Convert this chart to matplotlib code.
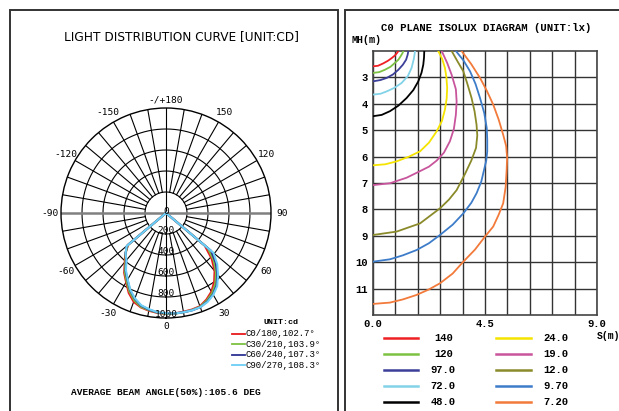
import numpy as np
import matplotlib
matplotlib.use('Agg')
import matplotlib.pyplot as plt
from matplotlib.lines import Line2D
from matplotlib.patches import Rectangle

W, H = 619, 411

# ---- light distribution (cd), gamma in deg, positive side = C0/C30/.. (right)
gamma = [-60, -50, -45, -40, -35, -30, -25, -20, -15, -10, -5, 0,
         5, 10, 15, 20, 25, 30, 35, 40, 45, 50, 60]
c0_180 = [0, 470, 550, 610, 695, 760, 840, 900, 930, 945, 955, 960,
          960, 955, 952, 945, 910, 865, 800, 720, 615, 480, 0]
c30_210 = [0, 475, 545, 600, 685, 750, 825, 885, 925, 940, 952, 960,
           962, 960, 957, 950, 920, 880, 820, 740, 645, 520, 0]
c60_240 = [0, 485, 545, 590, 672, 735, 810, 870, 915, 935, 950, 955,
           960, 960, 960, 955, 930, 895, 840, 760, 670, 560, 0]
c90_270 = [0, 490, 545, 585, 665, 730, 805, 865, 910, 930, 948, 955,
           960, 960, 960, 955, 935, 900, 850, 770, 690, 590, 0]
curve_labels = ['C0/180,102.7°', 'C30/210,103.9°', 'C60/240,107.3°', 'C90/270,108.3°']
curve_colors = ['#e8191e', '#7dc143', '#2e3192', '#6ccff6']
ring_values = [200, 400, 600, 800, 1000]
angle_labels = {0: '0', 30: '30', 60: '60', 90: '90', 120: '120', 150: '150',
                180: '-/+180', -30: '-30', -60: '-60', -90: '-90', -120: '-120', -150: '-150'}

# ---- C0 plane isolux (S in m, MH in m)
iso_levels = ['140', '120', '97.0', '72.0', '48.0', '24.0', '19.0', '12.0', '9.70', '7.20']
iso_colors = ['#ee2024', '#7cc142', '#3b3f98', '#82d3e8', '#000000',
              '#f5e400', '#c8559c', '#8a8a2a', '#3d7cc9', '#f27a3a']
s_140 = [0, 0.2, 0.41, 0.6, 0.75, 0.88, 0.97, 1.02]
mh_140 = [2.58, 2.56, 2.47, 2.37, 2.27, 2.17, 2.07, 2.0]
s_120 = [0, 0.25, 0.48, 0.7, 0.88, 1.02, 1.11, 1.18, 1.22]
mh_120 = [2.83, 2.8, 2.71, 2.6, 2.45, 2.33, 2.2, 2.09, 2.0]
s_97 = [0, 0.3, 0.55, 0.8, 1.02, 1.2, 1.33, 1.39, 1.42]
mh_97 = [3.15, 3.1, 3.02, 2.89, 2.71, 2.52, 2.33, 2.15, 2.0]
s_72 = [0, 0.3, 0.55, 0.85, 1.15, 1.4, 1.55, 1.64, 1.69]
mh_72 = [3.65, 3.62, 3.53, 3.4, 3.21, 2.95, 2.64, 2.3, 2.0]
s_48 = [0, 0.35, 0.68, 1.02, 1.35, 1.62, 1.82, 1.95, 2.02, 2.05, 2.06]
mh_48 = [4.47, 4.42, 4.28, 4.07, 3.78, 3.48, 3.15, 2.82, 2.52, 2.25, 2.0]
s_24 = [0, 0.5, 0.95, 1.45, 1.89, 2.25, 2.56, 2.77, 2.89, 2.96, 2.98, 2.95, 2.89, 2.78, 2.62]
mh_24 = [6.33, 6.29, 6.18, 6.0, 5.8, 5.47, 5.04, 4.65, 4.22, 3.8, 3.4, 3.0, 2.64, 2.3, 2.0]
s_19 = [0, 0.68, 1.35, 1.89, 2.25, 2.56, 2.85, 3.09, 3.25, 3.33, 3.36, 3.33, 3.16, 2.98, 2.76]
mh_19 = [7.08, 7.01, 6.8, 6.55, 6.38, 6.15, 5.85, 5.42, 4.95, 4.41, 3.91, 3.45, 2.9, 2.45, 2.0]
s_12 = [0, 0.95, 1.89, 2.69, 3.05, 3.36, 3.7, 3.95, 4.14, 4.19, 4.16, 4.08, 3.96, 3.8,
        3.63, 3.4, 3.16]
mh_12 = [8.97, 8.84, 8.53, 7.96, 7.63, 7.27, 6.65, 6.15, 5.67, 5.2, 4.79, 4.28, 3.78, 3.27,
         2.77, 2.4, 2.0]
s_97b = [0, 0.68, 1.2, 1.75, 2.25, 2.69, 3.2, 3.63, 3.95, 4.16, 4.35, 4.46, 4.55, 4.59,
         4.59, 4.57, 4.47, 4.3, 4.12, 3.9, 3.63, 3.33]
mh_97b = [9.98, 9.89, 9.74, 9.54, 9.28, 8.97, 8.58, 8.15, 7.75, 7.39, 6.95, 6.51, 6.15, 5.8,
          5.35, 4.92, 4.35, 3.78, 3.25, 2.77, 2.35, 2.0]
s_72b = [0, 0.68, 1.2, 1.75, 2.25, 2.69, 3.2, 3.63, 4.1, 4.5, 4.83, 5.05, 5.23, 5.33, 5.37,
         5.39, 5.35, 5.23, 5.05, 4.83, 4.57, 4.3, 3.95, 3.56]
mh_72b = [11.58, 11.53, 11.41, 11.24, 11.03, 10.8, 10.43, 9.98, 9.52, 9.03, 8.65, 8.2, 7.77,
          7.15, 6.51, 6.05, 5.6, 5.17, 4.6, 4.03, 3.5, 3.02, 2.5, 2.0]
iso_s = [s_140, s_120, s_97, s_72, s_48, s_24, s_19, s_12, s_97b, s_72b]
iso_mh = [mh_140, mh_120, mh_97, mh_72, mh_48, mh_24, mh_19, mh_12, mh_97b, mh_72b]

MONO = 'Liberation Mono'
SMONO = 'DejaVu Sans Mono'


def fx(x):
    return x / W


def fy(y):
    return 1 - y / H


fig = plt.figure(figsize=(W / 100, H / 100), dpi=100)
fig.patch.set_facecolor('white')

# panel frames
fig.add_artist(Rectangle((fx(10), fy(430)), (338 - 10) / W, 420 / H, transform=fig.transFigure,
                         fill=False, ec='#333333', lw=1.4))
fig.add_artist(Rectangle((fx(345), fy(430)), 300 / W, 420 / H, transform=fig.transFigure,
                         fill=False, ec='#333333', lw=1.4))

# ---------------- polar chart
ax = fig.add_axes([fx(61), fy(318), 210 / W, 210 / H], projection='polar')
ax.set_theta_zero_location('S')
ax.set_ylim(0, 1000)
ax.grid(False)
ax.set_xticks([])
ax.set_yticks([])
ax.spines['polar'].set_linewidth(1.0)
ax.spines['polar'].set_color('black')

th = np.linspace(0, 2 * np.pi, 361)
for r in ring_values[:-1]:
    ax.plot(th, np.full_like(th, r), color='black', lw=0.8)
for d in range(0, 360, 10):
    t = np.deg2rad(d)
    if d in (0, 180):
        ax.plot([t, t], [0, 1000], color='black', lw=0.8)
    elif d in (90, 270):
        ax.plot([t, t], [0, 1000], color='#808080', lw=1.8)
    else:
        ax.plot([t, t], [200, 1000], color='black', lw=0.8)

g = np.deg2rad(gamma)
for vals, col in zip([c0_180, c30_210, c60_240, c90_270], curve_colors):
    ax.plot(g, vals, color=col, lw=1.5)

for r in ring_values:
    ax.text(0, r - 35, str(r), ha='center', va='center', fontsize=6.8, family=SMONO)
ax.text(np.pi, 15, '0', ha='center', va='center', fontsize=6.8, family=SMONO)
for a, lab in angle_labels.items():
    rr = 1080 if a in (0, 180) else 1105
    ax.text(np.deg2rad(a), rr, lab, ha='center', va='center', fontsize=6.8,
            family=SMONO, clip_on=False)

fig.text(fx(181), fy(37), 'LIGHT DISTRIBUTION CURVE [UNIT:CD]', ha='center', va='center',
         fontsize=8.7, family='DejaVu Sans')

# legend (left)
fig.text(fx(281), fy(322), 'UNIT:cd', ha='center', va='center', fontsize=6, family=MONO,
         weight='bold')
for i, (lab, col) in enumerate(zip(curve_labels, curve_colors)):
    y = 333.5 + i * 10.6
    fig.add_artist(Line2D([fx(232), fx(244.5)], [fy(y), fy(y)], color=col, lw=1.3,
                          transform=fig.transFigure))
    fig.text(fx(246), fy(y), lab, ha='left', va='center', fontsize=6.5, family=MONO)

fig.text(fx(166), fy(392), 'AVERAGE BEAM ANGLE(50%):105.6 DEG', ha='center', va='center',
         fontsize=6.8, family=MONO, weight='bold')

# ---------------- isolux chart
bx = fig.add_axes([fx(373), fy(315), 224 / W, 264 / H])
for s, mh, col in zip(iso_s, iso_mh, iso_colors):
    bx.plot(s, mh, color=col, lw=1.3, zorder=3)
bx.set_xlim(0, 9)
bx.set_ylim(12, 2)
bx.set_xticks([0, 4.5, 9])
bx.set_xticklabels(['0.0', '4.5', '9.0'])
bx.set_xticks(np.arange(0, 9.01, 0.9), minor=True)
bx.set_yticks(range(3, 12))
bx.grid(True, which='both', color='#333333', lw=1.0)
bx.tick_params(which='both', length=0)
bx.tick_params(axis='x', pad=3)
bx.tick_params(axis='y', pad=4)
for lab in bx.get_xticklabels() + bx.get_yticklabels():
    lab.set_family(MONO)
    lab.set_weight('bold')
    lab.set_fontsize(7.6)
for sp in bx.spines.values():
    sp.set_color('#444444')
    sp.set_linewidth(1.2)

fig.text(fx(486), fy(28), 'C0 PLANE ISOLUX DIAGRAM (UNIT:lx)', ha='center', va='center',
         fontsize=7.7, family=MONO, weight='bold')
fig.text(fx(351), fy(40), 'MH(m)', ha='left', va='center', fontsize=7.2, family=MONO,
         weight='bold')
fig.text(fx(597), fy(336), 'S(m)', ha='left', va='center', fontsize=7.0, family=MONO,
         weight='bold')

# legend (right)
for i, (lab, col) in enumerate(zip(iso_levels, iso_colors)):
    row, c = i % 5, i // 5
    y = 337.7 + row * 16
    x0, x1, xt = (384, 418, 443.3) if c == 0 else (496, 531, 555.5)
    fig.add_artist(Line2D([fx(x0), fx(x1)], [fy(y), fy(y)], color=col, lw=1.8,
                          transform=fig.transFigure))
    fig.text(fx(xt), fy(y), lab, ha='center', va='center', fontsize=7.6, family=MONO,
             weight='bold')

fig.savefig('out.png', dpi=100)
